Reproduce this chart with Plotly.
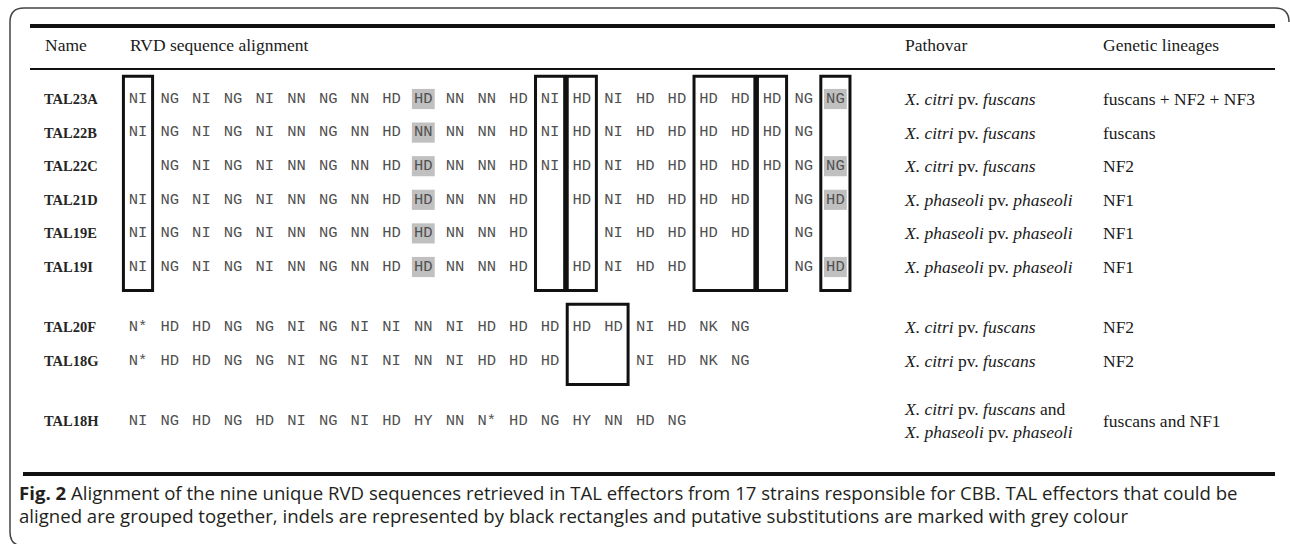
import plotly.graph_objects as go

W, H = 1290, 544

# ---------------- data ----------------
names = ["TAL23A", "TAL22B", "TAL22C", "TAL21D", "TAL19E", "TAL19I",
         "TAL20F", "TAL18G", "TAL18H"]

seq_TAL23A = "NI NG NI NG NI NN NG NN HD HD NN NN HD NI HD NI HD HD HD HD HD NG NG".split()
seq_TAL22B = "NI NG NI NG NI NN NG NN HD NN NN NN HD NI HD NI HD HD HD HD HD NG -".split()
seq_TAL22C = "- NG NI NG NI NN NG NN HD HD NN NN HD NI HD NI HD HD HD HD HD NG NG".split()
seq_TAL21D = "NI NG NI NG NI NN NG NN HD HD NN NN HD - HD NI HD HD HD HD - NG HD".split()
seq_TAL19E = "NI NG NI NG NI NN NG NN HD HD NN NN HD - - NI HD HD HD HD - NG -".split()
seq_TAL19I = "NI NG NI NG NI NN NG NN HD HD NN NN HD - HD NI HD HD - - - NG HD".split()
seq_TAL20F = "N* HD HD NG NG NI NG NI NI NN NI HD HD HD HD HD NI HD NK NG".split()
seq_TAL18G = "N* HD HD NG NG NI NG NI NI NN NI HD HD HD - - NI HD NK NG".split()
seq_TAL18H = "NI NG HD NG HD NI NG NI HD HY NN N* HD NG HY NN HD NG".split()

sequences = [seq_TAL23A, seq_TAL22B, seq_TAL22C, seq_TAL21D, seq_TAL19E,
             seq_TAL19I, seq_TAL20F, seq_TAL18G, seq_TAL18H]

# putative substitutions (row index, column index)
subst_rows = [0, 1, 2, 3, 4, 5, 0, 2, 3, 5]
subst_cols = [9, 9, 9, 9, 9, 9, 22, 22, 22, 22]

# indels: first column, last column, first row, last row
indel_col_from = [0, 13, 14, 18, 20, 22, 14]
indel_col_to   = [0, 13, 14, 19, 20, 22, 15]
indel_row_from = [0, 0, 0, 0, 0, 0, 6]
indel_row_to   = [5, 5, 5, 5, 5, 5, 7]

pathovars = [
    "<i>X. citri</i> pv. <i>fuscans</i>",
    "<i>X. citri</i> pv. <i>fuscans</i>",
    "<i>X. citri</i> pv. <i>fuscans</i>",
    "<i>X. phaseoli</i> pv. <i>phaseoli</i>",
    "<i>X. phaseoli</i> pv. <i>phaseoli</i>",
    "<i>X. phaseoli</i> pv. <i>phaseoli</i>",
    "<i>X. citri</i> pv. <i>fuscans</i>",
    "<i>X. citri</i> pv. <i>fuscans</i>",
    "<i>X. citri</i> pv. <i>fuscans</i> and<br><i>X. phaseoli</i> pv. <i>phaseoli</i>",
]
lineages = ["fuscans + NF2 + NF3", "fuscans", "NF2", "NF1", "NF1", "NF1",
            "NF2", "NF2", "fuscans and NF1"]

headers = ["Name", "RVD sequence alignment", "Pathovar", "Genetic lineages"]

caption_1 = ("<b>Fig. 2</b> Alignment of the nine unique RVD sequences retrieved in TAL "
             "effectors from 17 strains responsible for CBB. TAL effectors that could be")
caption_2 = ("aligned are grouped together, indels are represented by black rectangles "
             "and putative substitutions are marked with grey colour")

# ---------------- layout constants ----------------
ROW_Y = [0, 1, 2, 3, 4, 5, 6.786, 7.798, 9.583]   # vertical slot of each row
COL_PITCH = 31.7     # px per RVD column
ROW_PITCH = 33.6     # px per row unit
X0_PX = 138.0        # pixel centre of column 0
Y0_PX = 99.0         # pixel centre of row 0

x_lo = -X0_PX / COL_PITCH
x_hi = x_lo + W / COL_PITCH
y_lo = -Y0_PX / ROW_PITCH
y_hi = y_lo + H / ROW_PITCH


def px(x):
    return x / W


def py(y):
    return 1 - y / H


SERIF = "Liberation Serif, Times New Roman, serif"
MONO = "Liberation Mono, Courier New, monospace"
SANS = "Open Sans, Noto Sans, sans-serif"

# ---------------- traces ----------------
tx, ty, tt = [], [], []
for r, seq in enumerate(sequences):
    for c, rvd in enumerate(seq):
        if rvd != "-":
            tx.append(c)
            ty.append(ROW_Y[r])
            tt.append(rvd)

fig = go.Figure()
fig.add_trace(go.Scatter(
    x=tx, y=ty, text=tt, mode="text", textposition="middle center",
    textfont=dict(family=MONO, size=15.5, color="#505050"),
    hoverinfo="skip", cliponaxis=False, showlegend=False))

shapes = []
# grey substitution highlights
for r, c in zip(subst_rows, subst_cols):
    shapes.append(dict(type="rect", xref="x", yref="y",
                       x0=c - 0.36, x1=c + 0.36,
                       y0=ROW_Y[r] - 0.3, y1=ROW_Y[r] + 0.3,
                       fillcolor="#c0c0c0", line=dict(width=0), layer="below"))
# indel rectangles
for c0, c1, r0, r1 in zip(indel_col_from, indel_col_to, indel_row_from, indel_row_to):
    shapes.append(dict(type="rect", xref="x", yref="y",
                       x0=c0 - 0.5 + 0.04, x1=c1 + 0.5 - 0.04,
                       y0=ROW_Y[r0] - 0.68, y1=ROW_Y[r1] + 0.7,
                       line=dict(color="#111111", width=3)))
# table rules
shapes.append(dict(type="line", xref="paper", yref="paper",
                   x0=px(30), x1=px(1275), y0=py(26), y1=py(26),
                   line=dict(color="#111111", width=4)))
shapes.append(dict(type="line", xref="paper", yref="paper",
                   x0=px(30), x1=px(1275), y0=py(69), y1=py(69),
                   line=dict(color="#111111", width=2)))
shapes.append(dict(type="line", xref="paper", yref="paper",
                   x0=px(23), x1=px(1275), y0=py(474), y1=py(474),
                   line=dict(color="#111111", width=4)))
# outer rounded frame
frame = (f"M {px(1289)},{py(22)} Q {px(1289)},{py(8)} {px(1275)},{py(8)} "
         f"L {px(24)},{py(8)} Q {px(10)},{py(8)} {px(10)},{py(22)} "
         f"L {px(10)},{py(532)} Q {px(10)},{py(546)} {px(24)},{py(546)}")
shapes.append(dict(type="path", xref="paper", yref="paper", path=frame,
                   line=dict(color="#444444", width=1.5)))

annotations = []
hdr_x = [43, 128, 903, 1101]
for hx, htxt in zip(hdr_x, headers):
    annotations.append(dict(xref="paper", yref="paper", x=px(hx), y=py(45),
                            xanchor="left", yanchor="middle", text=htxt,
                            showarrow=False,
                            font=dict(family=SERIF, size=17.5, color="#1a1a1a")))
for r, nm in enumerate(names):
    annotations.append(dict(xref="paper", yref="y", x=px(42), y=ROW_Y[r],
                            xanchor="left", yanchor="middle", text="<b>" + nm + "</b>",
                            showarrow=False,
                            font=dict(family=SERIF, size=14.5, color="#262626")))
    annotations.append(dict(xref="paper", yref="y", x=px(902), y=ROW_Y[r],
                            xanchor="left", yanchor="middle", text=pathovars[r],
                            showarrow=False, align="left",
                            font=dict(family=SERIF, size=17.5, color="#1a1a1a")))
    annotations.append(dict(xref="paper", yref="y", x=px(1101), y=ROW_Y[r],
                            xanchor="left", yanchor="middle", text=lineages[r],
                            showarrow=False,
                            font=dict(family=SERIF, size=17.5, color="#1a1a1a")))
annotations.append(dict(xref="paper", yref="paper", x=px(17), y=py(492),
                        xanchor="left", yanchor="middle", text=caption_1,
                        showarrow=False,
                        font=dict(family=SANS, size=18.6, color="#231f20")))
annotations.append(dict(xref="paper", yref="paper", x=px(17), y=py(515),
                        xanchor="left", yanchor="middle", text=caption_2,
                        showarrow=False,
                        font=dict(family=SANS, size=18.6, color="#231f20")))

fig.update_layout(
    width=W, height=H,
    margin=dict(l=0, r=0, t=0, b=0),
    paper_bgcolor="white", plot_bgcolor="white",
    xaxis=dict(range=[x_lo, x_hi], visible=False, fixedrange=True),
    yaxis=dict(range=[y_hi, y_lo], visible=False, fixedrange=True),
    shapes=shapes, annotations=annotations,
    showlegend=False,
)

fig.write_html("out.html",
               config={"displayModeBar": False},
               post_script="document.body.style.margin='0';"
                           "document.body.style.overflow='hidden';")
